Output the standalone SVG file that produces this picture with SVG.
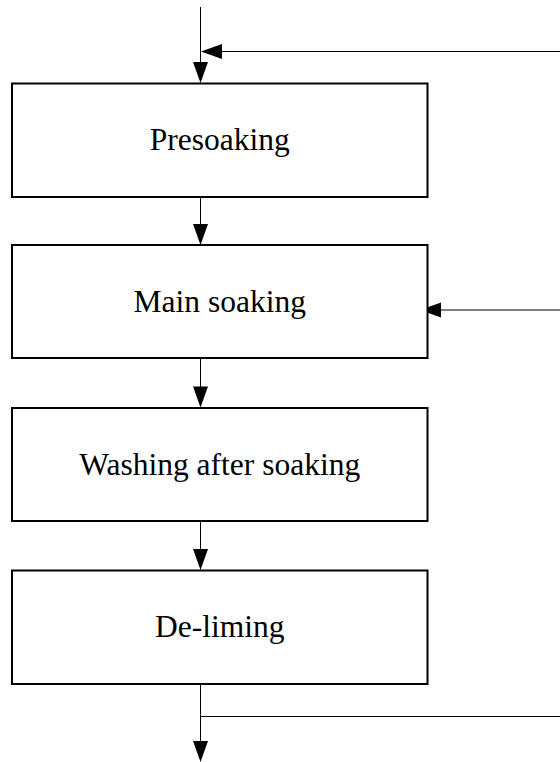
<svg xmlns="http://www.w3.org/2000/svg" width="560" height="762" viewBox="0 0 560 762">
  <style>
    .box { fill: #fff; stroke: #000; stroke-width: 2; }
    .label { font-family: "Liberation Serif", "Times New Roman", serif; font-size: 31.5px; fill: #000; text-anchor: middle; }
    .wire { fill: none; stroke: #000; stroke-width: 1; }
    .head { fill: #000; stroke: none; }
  </style>

  <!-- connectors -->
  <g id="connectors">
    <!-- inlet from top -->
    <line class="wire" x1="200.5" y1="7" x2="200.5" y2="63"/>
    <polygon class="head" points="193,62 208,62 200.5,83"/>
    <!-- side feed into presoaking inlet -->
    <line class="wire" x1="560" y1="51.5" x2="221" y2="51.5"/>
    <polygon class="head" points="222,44 222,59 201,51.5"/>
    <!-- presoaking -> main soaking -->
    <line class="wire" x1="200.5" y1="197" x2="200.5" y2="226"/>
    <polygon class="head" points="193,224 208,224 200.5,245"/>
    <!-- side feed into main soaking -->
    <line class="wire" x1="560" y1="310" x2="439" y2="310"/>
    <polygon class="head" points="441,302.5 441,317.5 420,310"/>
    <!-- main soaking -> washing -->
    <line class="wire" x1="200.5" y1="358" x2="200.5" y2="388"/>
    <polygon class="head" points="193,386.5 208,386.5 200.5,407.5"/>
    <!-- washing -> de-liming -->
    <line class="wire" x1="200.5" y1="521" x2="200.5" y2="551"/>
    <polygon class="head" points="193,549 208,549 200.5,570"/>
    <!-- outlet -->
    <line class="wire" x1="200.5" y1="684" x2="200.5" y2="743"/>
    <polygon class="head" points="193,741 208,741 200.5,762"/>
    <line class="wire" x1="200.5" y1="716.5" x2="560" y2="716.5"/>
  </g>

  <g id="presoaking">
    <rect class="box" x="12" y="83.5" width="415.5" height="113.5"/>
    <text class="label" x="219.75" y="149.5">Presoaking</text>
  </g>

  <g id="main-soaking">
    <rect class="box" x="12" y="245" width="415.5" height="113"/>
    <text class="label" x="219.75" y="311.5">Main soaking</text>
  </g>

  <g id="washing">
    <rect class="box" x="12" y="408" width="415.5" height="113"/>
    <text class="label" x="219.75" y="474.5">Washing after soaking</text>
  </g>

  <g id="de-liming">
    <rect class="box" x="12" y="570.5" width="415.5" height="113.5"/>
    <text class="label" x="219.75" y="637">De-liming</text>
  </g>
</svg>
